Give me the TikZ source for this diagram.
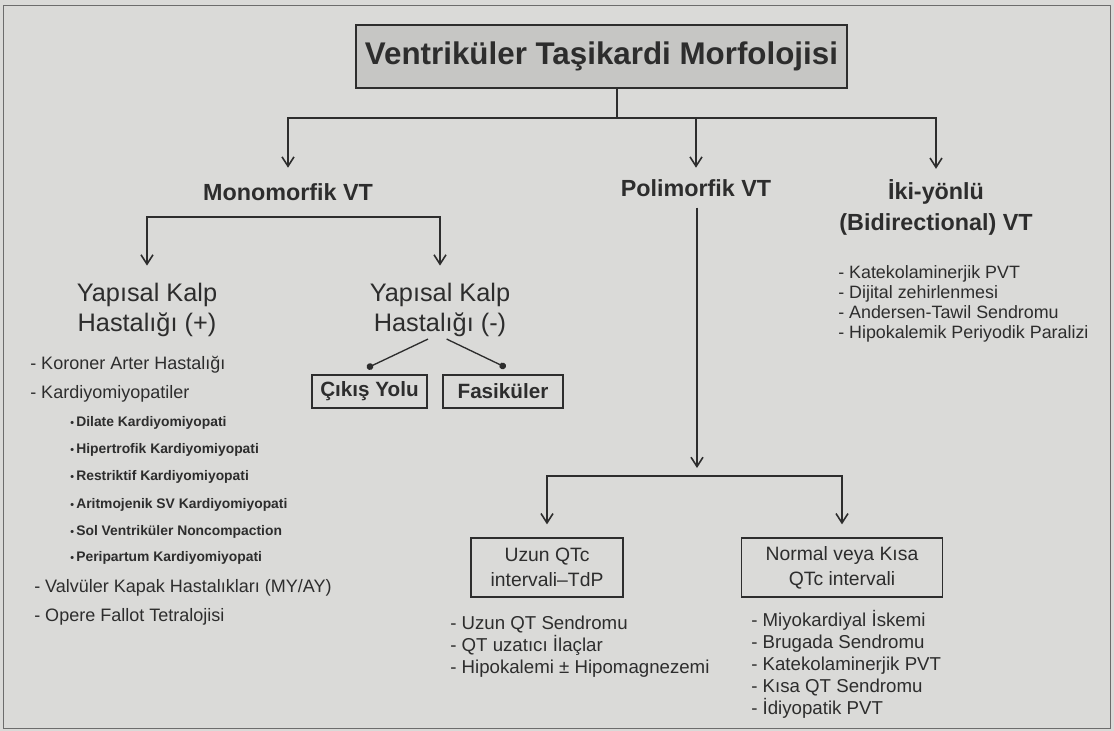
\documentclass[tikz,border=0pt]{standalone}
\usepackage{fontspec}
\setmainfont{Liberation Sans}
\usetikzlibrary{arrows.meta}
\definecolor{bg}{RGB}{218,218,216}
\definecolor{ink}{RGB}{45,45,45}
\definecolor{tfill}{RGB}{198,198,196}
\newcommand\fz[2]{\fontsize{#1pt}{#2pt}\selectfont}
\begin{document}
\begin{tikzpicture}[x=0.75pt,y=-0.75pt,
  every node/.style={text=ink, inner sep=0pt},
  hd/.style={font=\bfseries\fz{17.5}{23}, align=center},
  yk/.style={font=\fz{19}{22.5}, align=center},
  ls/.style={font=\fz{13.5}{16}, anchor=west},
  sb/.style={font=\bfseries\fz{10.4}{12}, anchor=west},
  rl/.style={font=\fz{13.4}{15}, align=left, anchor=north west},
  ll/.style={font=\fz{14}{16.5}, align=left, anchor=north west},
  bx/.style={draw=ink, line width=1.2pt, align=center},
  ln/.style={draw=ink, line width=1.4pt},
  arr/.style={ln, -{Straight Barb[length=7pt,width=9pt,line width=1.2pt]}, shorten >=#1},
  arr/.default=0pt,
  dl/.style={draw=ink, line width=1pt, -{Circle[length=5pt,width=5pt]}}
]
\fill[bg] (0,0) rectangle (1114,731);
\draw[ink!70, line width=0.6pt] (3,5) rectangle (1110,728);
\useasboundingbox (0,0) rectangle (1114,731);

% title
\node[bx, fill=tfill, line width=1.4pt, minimum width=368pt, minimum height=47pt,
      font=\bfseries\fz{23.5}{28}] (title) at (601.5,56.5) {Ventriküler Taşikardi Morfolojisi};
\coordinate (hub) at (617,118);
\draw[ln] (title.south -| hub) -- (hub);

% level 1
\node[hd] (mono) at (288,192) {Monomorfik VT};
\node[hd] (poli) at (696,188) {Polimorfik VT};
\node[hd] (iki) at (936,207.5) {İki-yönlü\\(Bidirectional) VT};
\draw[arr=11.6pt] (hub) -| (mono.north);
\draw[arr=8.6pt] (hub) -| (poli.north);
\draw[arr=8pt] (hub) -| (iki.north);

\node[rl] (ikil) at (838,265) {- Katekolaminerjik PVT\\- Dijital zehirlenmesi\\- Andersen-Tawil Sendromu\\- Hipokalemik Periyodik Paralizi};

% monomorfik branch
\coordinate (mhub) at (288,217);
\node[yk] (yk1) at (147,310) {Yapısal Kalp\\Hastalığı (+)};
\node[yk] (yk2) at (440,310) {Yapısal Kalp\\Hastalığı (-)};
\draw[arr=13pt] (mhub) -| (yk1.north);
\draw[arr=13pt] (mhub) -| (yk2.north);

\node[bx, minimum width=86pt, minimum height=25pt, font=\bfseries\fz{15.5}{18}] (cikis) at (369.5,391.5) {Çıkış Yolu};
\node[bx, minimum width=90pt, minimum height=25pt, font=\bfseries\fz{15.5}{18}] (fas) at (503,391.5) {Fasiküler};
\draw[dl] ([xshift=-9pt,yshift=-1.5pt]yk2.south) -- ([xshift=-1.9pt,yshift=4.5pt]cikis.north);
\draw[dl] ([xshift=5pt,yshift=-1.5pt]yk2.south) -- ([xshift=2pt,yshift=5pt]fas.north);

% left list
\node[ls] (l1) at (30,365) {- Koroner Arter Hastalığı};
\node[ls] (l2) at (30,394) {- Kardiyomiyopatiler};
\node[sb] (s1) at (70,423) {{\fz{8}{8}•}\,Dilate Kardiyomiyopati};
\node[sb] (s2) at (70,450) {{\fz{8}{8}•}\,Hipertrofik Kardiyomiyopati};
\node[sb] (s3) at (70,477) {{\fz{8}{8}•}\,Restriktif Kardiyomiyopati};
\node[sb] (s4) at (70,505) {{\fz{8}{8}•}\,Aritmojenik SV Kardiyomiyopati};
\node[sb] (s5) at (70,532) {{\fz{8}{8}•}\,Sol Ventriküler Noncompaction};
\node[sb] (s6) at (70,558) {{\fz{8}{8}•}\,Peripartum Kardiyomiyopati};
\node[ls] (l3) at (34,588) {- Valvüler Kapak Hastalıkları (MY/AY)};
\node[ls] (l4) at (34,617) {- Opere Fallot Tetralojisi};

% polimorfik branch
\coordinate (phub) at (697,476);
\draw[arr=6pt, shorten <=8pt] (poli.south -| phub) -- (phub);
\node[bx, minimum width=114pt, minimum height=44pt, font=\fz{14.5}{19}] (uzun) at (547,567.5) {Uzun QTc\\intervali–TdP};
\node[bx, minimum width=151pt, minimum height=44pt, font=\fz{14.5}{19}] (normal) at (842,567.5) {Normal veya Kısa\\QTc intervali};
\draw[arr=9.75pt] (phub) -| (uzun.north);
\draw[arr=9.75pt] (phub) -| (normal.north);

\node[ll] (ul) at (450,616) {- Uzun QT Sendromu\\- QT uzatıcı İlaçlar\\- Hipokalemi ± Hipomagnezemi};
\node[ll] (nl) at (751,610) {- Miyokardiyal İskemi\\- Brugada Sendromu\\- Katekolaminerjik PVT\\- Kısa QT Sendromu\\- İdiyopatik PVT};
\end{tikzpicture}
\end{document}
